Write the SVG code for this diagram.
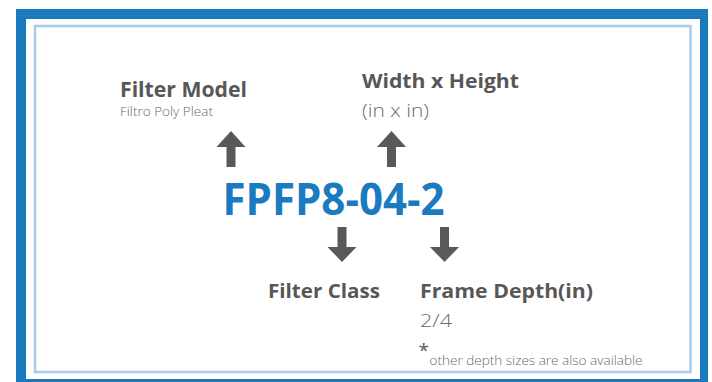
<svg xmlns="http://www.w3.org/2000/svg" width="712" height="382" viewBox="0 0 712 382">
<style>
.t{font-family:"Open Sans","Liberation Sans",sans-serif;fill:#575757}
.b{font-weight:700}
.l{font-weight:300;fill:#6a6a6a}
.code{font-family:"Open Sans","Liberation Sans",sans-serif;font-weight:700;fill:#1b7bc0}
.arr{fill:#595959}
</style>
<rect x="16" y="9" width="692" height="380" fill="#1b79be"/>
<rect x="26" y="19" width="674" height="360" fill="#ffffff"/>
<rect x="35" y="26" width="655.5" height="346" fill="none" stroke="#a9cceb" stroke-width="2.5"/>
<g id="filter-model">
<text class="t b" x="120" y="97" font-size="20.5" textLength="127" lengthAdjust="spacingAndGlyphs">Filter Model</text>
<text class="t l" x="120" y="116" font-size="12.5" textLength="93" lengthAdjust="spacingAndGlyphs">Filtro Poly Pleat</text>
</g>
<g id="width-height">
<text class="t b" x="362" y="88" font-size="20" textLength="157" lengthAdjust="spacingAndGlyphs">Width x Height</text>
<text class="t l" x="362" y="116.5" font-size="19" textLength="67" lengthAdjust="spacingAndGlyphs">(in x in)</text>
</g>
<g id="code">
<text class="code" x="222.5" y="215" font-size="44" textLength="222" lengthAdjust="spacingAndGlyphs">FPFP8-04-2</text>
</g>
<g id="filter-class">
<text class="t b" x="268" y="298" font-size="20" textLength="112" lengthAdjust="spacingAndGlyphs">Filter Class</text>
</g>
<g id="frame-depth">
<text class="t b" x="420" y="298" font-size="20" textLength="173" lengthAdjust="spacingAndGlyphs">Frame Depth(in)</text>
<text class="t l" x="420" y="326.5" font-size="19" textLength="32" lengthAdjust="spacingAndGlyphs">2/4</text>
<text class="t" x="418.5" y="357" font-size="19">*</text>
<text class="t l" x="429.5" y="365" font-size="13" textLength="213" lengthAdjust="spacingAndGlyphs">other depth sizes are also available</text>
</g>
<g id="connectors">
<path class="arr" d="M231 131 L245.5 147 L235.5 147 L235.5 167 L226.5 167 L226.5 147 L216.5 147 Z"/>
<path class="arr" d="M391.5 131 L406 147 L396 147 L396 167 L387 167 L387 147 L377 147 Z"/>
<path class="arr" d="M342 262 L356.5 247 L346.5 247 L346.5 227 L337.5 227 L337.5 247 L327.5 247 Z"/>
<path class="arr" d="M444.5 262 L459 247 L449 247 L449 227 L440 227 L440 247 L430 247 Z"/>
</g>
</svg>
